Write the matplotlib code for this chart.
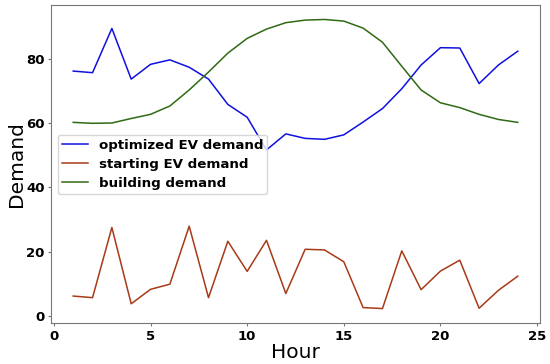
import matplotlib
matplotlib.use("Agg")
import matplotlib.pyplot as plt

hours = list(range(1, 25))
optimized_ev = [76.3, 75.8, 89.6, 73.8, 78.4, 79.8, 77.5, 73.8, 65.9, 61.9, 51.7, 56.7,
                55.3, 55.0, 56.4, 60.4, 64.6, 70.8, 78.2, 83.6, 83.5, 72.4, 78.2, 82.5]
starting_ev = [6.1, 5.6, 27.5, 3.7, 8.2, 9.8, 27.9, 5.6, 23.2, 13.8, 23.5, 6.9,
               20.7, 20.5, 16.8, 2.5, 2.2, 20.2, 8.1, 13.9, 17.3, 2.3, 7.9, 12.3]
building = [60.3, 60.0, 60.1, 61.5, 62.8, 65.4, 70.4, 76.0, 81.9, 86.5, 89.4, 91.4,
            92.2, 92.4, 91.9, 89.7, 85.3, 77.8, 70.4, 66.4, 64.9, 62.8, 61.2, 60.3]
labels = ["optimized EV demand", "starting EV demand", "building demand"]

fig = plt.figure(figsize=(5.5, 3.64), dpi=100)
ax = fig.add_axes([0.0927, 0.1126, 0.8891, 0.8736])
ax.plot(hours, optimized_ev, color="#1010e0", lw=1.1, label=labels[0])
ax.plot(hours, starting_ev, color="#a83a18", lw=1.1, label=labels[1])
ax.plot(hours, building, color="#2f6a14", lw=1.1, label=labels[2])

ax.set_xticks([0, 5, 10, 15, 20, 25])
ax.set_yticks([0, 20, 40, 60, 80])
ax.tick_params(length=2.5, pad=2.2, color="#777777")
for lab in ax.get_xticklabels() + ax.get_yticklabels():
    lab.set_fontweight("bold")
    lab.set_fontsize(9.5)
ax.set_xlabel("Hour", fontsize=14.5, labelpad=0)
ax.set_ylabel("Demand", fontsize=14.5, labelpad=0)
for s in ax.spines.values():
    s.set_color("#777777")
ax.legend(loc="center left", prop={"weight": "bold", "size": 9.6},
          handlelength=2.0, labelspacing=0.45, borderpad=0.3)
fig.savefig("out.png", dpi=100)
